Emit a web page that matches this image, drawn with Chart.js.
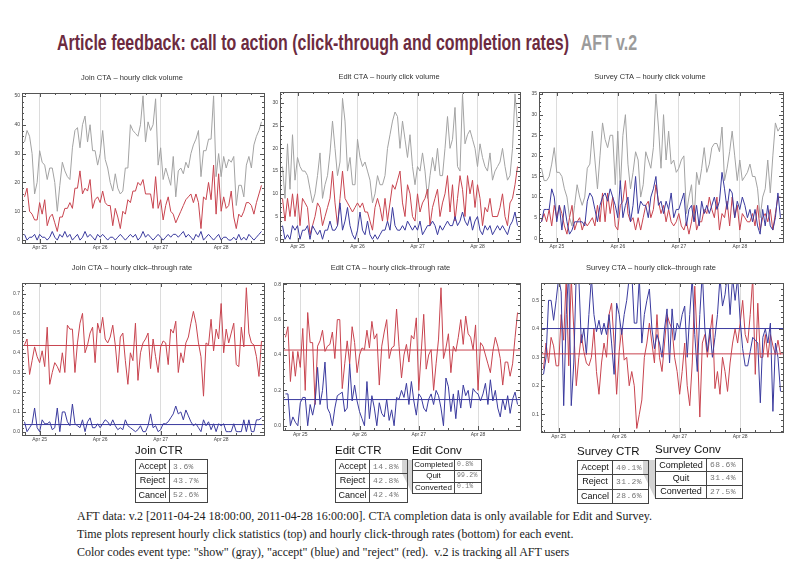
<!DOCTYPE html>
<html>
<head>
<meta charset="utf-8">
<script src="https://cdn.jsdelivr.net/npm/chart.js@4.4.1/dist/chart.umd.min.js"></script>
<style>
body { margin: 0; width: 800px; height: 566px; background: #fff; position: relative; overflow: hidden; font-family: "Liberation Sans", Arial, sans-serif; }
.plot { position: absolute; }
#title { position: absolute; left: 57px; top: 30px; white-space: nowrap; font-family: "Liberation Sans Narrow", "Liberation Sans", sans-serif; font-size: 22px; font-weight: bold; color: #6c2b3f; transform-origin: 0 0; }
#title span { color: #9b9b9b; margin-left: 16px; }
.tt { position: absolute; font-size: 11.5px; color: #111; white-space: nowrap; }
table.st { position: absolute; border-collapse: collapse; border: 1px solid #333; table-layout: fixed; }
table.st td { border: 1px solid #444; padding: 0; white-space: nowrap; line-height: 1; overflow: hidden; }
td.k { font-size: 9px; color: #111; text-align: center; }
td.v { font-family: "Liberation Mono", monospace; font-size: 8px; letter-spacing: 0.4px; color: #777; padding-left: 3px !important; }
table.small td.k { font-size: 8px; }
table.small td.v { font-size: 6.5px; letter-spacing: 0.2px; padding-left: 2px !important; }
.wedge { position: absolute; background: #d4d4d4; }
#foot { position: absolute; left: 77px; top: 507px; font-family: "Liberation Serif", "Times New Roman", serif; font-size: 12px; color: #222; line-height: 18px; white-space: nowrap; }
</style>
</head>
<body>
<div id="title">Article feedback: call to action (click-through and completion rates)<span>AFT v.2</span></div>
<div id="foot">
<div>AFT data: v.2 [2011-04-24 18:00:00, 2011-04-28 16:00:00]. CTA completion data is only available for Edit and Survey.</div>
<div>Time plots represent hourly click statistics (top) and hourly click-through rates (bottom) for each event.</div>
<div>Color codes event type: "show" (gray), "accept" (blue) and "reject" (red).&nbsp; v.2 is tracking all AFT users</div>
</div>
<script>
// hourly data, 2011-04-24 18:00 .. 2011-04-28 16:00 (95 hours)
const dayTicks = [6, 30, 54, 78];
const dayLabels = ['Apr 25', 'Apr 26', 'Apr 27', 'Apr 28'];

const joinShow = [34,38,36,30,16,20,31,27,26,21, 25,25,20,10,19,27,24,22,21,32, 38,39,32,40,43,34,40,31,31,26,
  30,38,28,25,20,17,23,18,16,17, 25,25,40,38,37,36,40,50,34,41, 38,40,49,26,32,21,25,22,19,29,
  15,24,25,23,27,25,30,33,35,38, 22,31,31,35,35,50,22,30,22,29, 25,28,27,29,12,19,19,15,26,29, 25,33,36,38,41];
const joinReject = [15,18,10,9,7,7,13,9,14,5, 8,9,6,3,8,8,11,11,13,11, 18,18,24,16,18,17,21,11,14,15,
  13,17,13,12,12,5,11,8,4,10, 9,14,13,17,17,20,19,21,16,16, 16,11,22,11,14,7,12,15,10,9,
  6,8,10,12,14,15,16,13,16,13, 4,15,14,20,14,26,9,23,10,15, 11,12,17,8,4,9,8,10,13,13, 12,9,13,16,19];
const joinAccept = [2,0,1,1,2,0,2,1,1,0, 1,3,1,0,2,1,3,1,2,0, 1,2,0,1,3,1,2,1,0,2,
  1,2,1,0,1,1,0,1,2,1, 0,1,2,1,2,0,1,3,1,2, 1,0,1,2,1,0,1,2,1,2,
  2,1,2,3,1,2,1,0,2,1, 3,0,1,2,1,0,1,2,0,1, 1,0,0,1,0,2,0,1,0,2, 1,0,1,2,3];

const editShow = [16,9,21,11,23,13,18,16,15,15, 14,11,8,10,14,19,9,12,14,19, 26,20,14,17,31,26,15,18,12,12,
  22,18,16,17,15,13,8,10,14,12, 12,14,20,23,26,28,27,20,26,22, 18,23,16,12,16,15,19,15,9,14,
  18,15,20,14,14,20,27,20,22,29, 16,15,32,21,23,24,22,20,16,21, 18,16,15,19,13,15,16,17,20,16, 13,14,20,32,25];
const editReject = [9,4,9,5,10,5,10,3,9,8, 7,1,3,5,8,7,3,5,7,9, 15,8,3,9,15,9,8,7,6,7,
  8,7,8,6,6,4,2,7,9,7, 4,9,4,8,12,11,13,15,8,5, 12,10,5,4,10,6,8,9,11,3,
  7,9,11,5,8,10,14,6,12,4, 9,14,11,5,14,10,13,7,12,9, 3,7,6,9,5,5,5,7,10,5, 3,8,9,12,16];
const editAccept = [3,0,1,0,3,2,3,0,2,2, 3,0,3,2,1,2,0,2,2,4, 2,2,3,8,2,4,7,3,1,0,
  2,6,2,1,4,1,0,1,0,1, 2,2,4,2,7,3,2,2,3,2, 4,3,2,3,2,4,1,2,3,3,
  4,3,1,3,2,3,4,3,3,5, 3,4,6,4,3,5,2,4,5,2, 1,3,2,3,1,2,3,2,3,2, 1,3,4,6,3];

const surveyShow = [17,14,14,15,18,22,16,16,15,12, 10,5,3,8,13,10,8,10,17,18, 26,19,12,20,28,24,22,25,25,13,
  26,12,25,30,18,12,16,21,19,10, 13,21,19,17,22,35,27,17,30,19, 26,18,19,16,17,19,20,6,10,13,
  4,16,13,17,22,16,18,22,23,23, 21,27,14,17,21,26,20,14,19,14, 15,16,18,15,15,12,5,10,12,19, 11,20,28,26,27];
const surveyReject = [4,6,4,7,3,8,5,8,6,3, 1,5,8,2,4,5,2,4,3,4, 5,3,8,4,11,4,11,6,10,3,
  2,8,9,14,6,4,5,2,5,2, 5,8,9,5,7,13,9,6,8,4, 7,4,3,4,6,3,2,4,1,4,
  8,2,4,4,7,6,10,7,5,10, 2,6,5,9,3,10,5,8,2,6, 5,4,4,6,3,8,2,5,6,4, 7,2,6,10,10];
const surveyAccept = [4,7,7,7,12,10,4,8,2,8, 4,1,2,4,4,4,4,3,9,11, 10,7,4,8,10,11,9,12,10,8,
  5,14,5,8,10,4,8,15,6,9, 8,8,5,10,12,15,8,9,6,9, 7,11,5,7,7,9,11,3,7,8,
  4,8,3,9,6,8,6,8,10,7, 9,16,12,7,12,11,5,9,7,10, 8,5,7,4,7,3,1,7,3,8, 3,2,5,11,5];

const joinCtrReject = [0.44,0.47,0.29,0.36,0.43,0.38,0.35,0.41,0.33,0.53, 0.24,0.30,0.35,0.33,0.30,0.40,0.30,0.54,0.52,0.52,
  0.30,0.45,0.55,0.60,0.40,0.44,0.50,0.53,0.35,0.55, 0.50,0.58,0.47,0.45,0.48,0.54,0.44,0.30,0.48,0.50,
  0.36,0.24,0.40,0.36,0.55,0.26,0.40,0.45,0.47,0.50, 0.32,0.47,0.38,0.30,0.43,0.46,0.45,0.34,0.52,0.50,
  0.56,0.30,0.40,0.35,0.45,0.48,0.55,0.61,0.55,0.45, 0.38,0.18,0.45,0.44,0.57,0.41,0.52,0.47,0.65,0.40,
  0.52,0.45,0.50,0.55,0.34,0.33,0.53,0.43,0.73,0.50, 0.45,0.44,0.38,0.28,0.46];
const joinCtrAccept = [0.05,0.00,0.02,0.04,0.12,0.02,0.00,0.06,0.04,0.04, 0.05,0.01,0.02,0.12,0.00,0.10,0.10,0.05,0.03,0.14,
  0.04,0.03,0.02,0.06,0.00,0.05,0.07,0.02,0.02,0.04, 0.02,0.04,0.06,0.05,0.03,0.06,0.03,0.01,0.02,0.01,
  0.06,0.03,0.02,0.01,0.00,0.01,0.03,0.00,0.00,0.03, 0.09,0.02,0.03,0.00,0.01,0.04,0.04,0.05,0.07,0.09,
  0.13,0.09,0.10,0.06,0.11,0.08,0.05,0.03,0.04,0.02, 0.00,0.06,0.03,0.05,0.01,0.04,0.00,0.04,0.03,0.04,
  0.00,0.00,0.00,0.04,0.00,0.00,0.00,0.06,0.00,0.06, 0.00,0.00,0.06,0.06,0.07];

const editCtrReject = [0.50,0.56,0.25,0.42,0.28,0.42,0.33,0.55,0.20,0.64, 0.47,0.47,0.12,0.45,0.48,0.54,0.42,0.45,0.46,0.53,
  0.38,0.60,0.60,0.21,0.35,0.48,0.35,0.56,0.47,0.30, 0.40,0.44,0.43,0.54,0.44,0.59,0.49,0.52,0.23,0.45,
  0.53,0.60,0.38,0.44,0.45,0.66,0.45,0.27,0.40,0.46, 0.36,0.51,0.49,0.61,0.20,0.42,0.63,0.32,0.40,0.43,
  0.20,0.35,0.49,0.78,0.38,0.44,0.52,0.30,0.45,0.42, 0.50,0.60,0.46,0.62,0.52,0.50,0.43,0.57,0.20,0.47,
  0.45,0.40,0.35,0.30,0.42,0.50,0.45,0.38,0.23,0.36, 0.36,0.28,0.35,0.50,0.64];
const editCtrAccept = [0.18,0.18,0.00,0.05,0.02,0.00,0.13,0.16,0.16,0.00, 0.12,0.06,0.13,0.33,0.12,0.20,0.36,0.10,0.07,0.00,
  0.10,0.17,0.18,0.19,0.08,0.10,0.35,0.14,0.23,0.14, 0.08,0.04,0.00,0.25,0.04,0.17,0.10,0.00,0.13,0.07,
  0.05,0.15,0.03,0.09,0.00,0.16,0.15,0.20,0.16,0.24, 0.12,0.25,0.14,0.06,0.18,0.16,0.10,0.08,0.15,0.18,
  0.12,0.20,0.17,0.10,0.00,0.27,0.22,0.08,0.18,0.04, 0.20,0.10,0.23,0.17,0.20,0.10,0.21,0.19,0.18,0.14,
  0.18,0.24,0.12,0.26,0.14,0.20,0.10,0.05,0.15,0.09, 0.17,0.07,0.15,0.19,0.12];

const surveyCtrAccept = [0.24,0.30,0.50,0.50,0.43,0.50,0.58,0.53,0.13,0.45, 0.60,0.13,0.28,0.60,0.58,0.35,0.40,0.31,0.45,0.58,
  0.45,0.39,0.43,0.38,0.42,0.38,0.45,0.35,0.24,0.49, 0.45,0.38,0.45,0.50,0.58,0.60,0.42,0.42,0.58,0.35,
  0.45,0.50,0.54,0.40,0.33,0.38,0.35,0.30,0.40,0.47, 0.28,0.47,0.36,0.42,0.40,0.45,0.48,0.30,0.45,0.58,
  0.38,0.25,0.45,0.60,0.40,0.32,0.40,0.30,0.37,0.45, 0.58,0.48,0.52,0.60,0.45,0.58,0.50,0.58,0.43,0.33,
  0.27,0.27,0.32,0.37,0.36,0.35,0.14,0.37,0.40,0.35, 0.42,0.11,0.35,0.30,0.18];
const surveyCtrReject = [0.26,0.35,0.28,0.37,0.34,0.27,0.27,0.45,0.36,0.58, 0.27,0.58,0.40,0.20,0.30,0.38,0.32,0.28,0.27,0.30,
  0.40,0.25,0.17,0.28,0.35,0.30,0.45,0.49,0.35,0.17, 0.32,0.40,0.29,0.30,0.20,0.25,0.20,0.05,0.10,0.15,
  0.30,0.35,0.42,0.35,0.28,0.45,0.30,0.25,0.35,0.45, 0.42,0.40,0.30,0.25,0.17,0.25,0.35,0.20,0.13,0.28,
  0.55,0.35,0.09,0.35,0.38,0.30,0.38,0.45,0.19,0.25, 0.17,0.30,0.25,0.18,0.28,0.35,0.40,0.35,0.42,0.50,
  0.38,0.35,0.45,0.58,0.24,0.49,0.30,0.30,0.38,0.30, 0.38,0.34,0.31,0.36,0.31];

// summary tables
const ctrRows = ['Accept', 'Reject', 'Cancel'];
const convRows = ['Completed', 'Quit', 'Converted'];
const joinCtr = ['3.6%', '43.7%', '52.6%'];
const editCtr = ['14.8%', '42.8%', '42.4%'];
const editConv = ['0.8%', '99.2%', '0.1%'];
const surveyCtr = ['40.1%', '31.2%', '28.6%'];
const surveyConv = ['68.6%', '31.4%', '27.5%'];

const GRAY = '#a3a3a3', RED = '#c8444f', BLUE = '#3a3a9e';
const X_MIN = -1, X_MAX = 95;

Chart.defaults.font.family = '"Liberation Sans", Arial, sans-serif';

const framePlugin = {
    id: 'frame',
    afterDraw(chart) {
        const { ctx, chartArea: a, scales: { x, y } } = chart;
        ctx.save();
        ctx.strokeStyle = '#555';
        ctx.lineWidth = 1;
        ctx.strokeRect(Math.round(a.left) + 0.5, Math.round(a.top) + 0.5, Math.round(a.right - a.left), Math.round(a.bottom - a.top));
        ctx.beginPath();
        const yt = y.ticks.map(t => t.value);
        const step = yt[1] - yt[0];
        for (let v = yt[0] - step; v <= y.max; v += step / 5) {
            if (v < y.min) continue;
            const py = Math.round(y.getPixelForValue(v)) + 0.5;
            const major = yt.some(t => Math.abs(t - v) < step / 100);
            const len = major ? 4 : 2;
            ctx.moveTo(a.left, py); ctx.lineTo(a.left + len, py);
            ctx.moveTo(a.right, py); ctx.lineTo(a.right - len, py);
        }
        for (let h = dayTicks[0] - 6; h <= x.max; h += 6) {
            if (h < x.min) continue;
            const px = Math.round(x.getPixelForValue(h)) + 0.5;
            const len = dayTicks.includes(h) ? 4 : 2;
            ctx.moveTo(px, a.bottom); ctx.lineTo(px, a.bottom - len);
            ctx.moveTo(px, a.top); ctx.lineTo(px, a.top + len);
        }
        ctx.stroke();
        ctx.restore();
    }
};

function pts(arr) {
    return arr.map((v, i) => ({ x: i, y: v }));
}

function line(data, color) {
    return { data: pts(data), borderColor: color, borderWidth: 1, pointRadius: 0, tension: 0, fill: false };
}

function meanLine(value, color) {
    return { data: [{ x: X_MIN, y: value }, { x: X_MAX, y: value }], borderColor: color, borderWidth: 1, pointRadius: 0, fill: false };
}

function makePlot(frame, title, datasets, yMin, yMax, yTicks, digits) {
    const [L, R, T, B] = frame;
    const w = R - L + 28, h = B - T + 42;
    const canvas = document.createElement('canvas');
    canvas.className = 'plot';
    canvas.width = w; canvas.height = h;
    canvas.style.left = (L - 22) + 'px';
    canvas.style.top = (T - 30) + 'px';
    canvas.style.width = w + 'px';
    canvas.style.height = h + 'px';
    document.body.appendChild(canvas);
    new Chart(canvas.getContext('2d'), {
        type: 'line',
        data: { datasets: datasets },
        options: {
            responsive: false,
            animation: false,
            layout: { padding: { left: 0, right: 6, top: 0, bottom: 0 } },
            plugins: {
                legend: { display: false },
                tooltip: { enabled: false },
                title: {
                    display: true,
                    text: title,
                    color: '#333',
                    font: { size: 7.5, weight: 'normal' },
                    padding: { top: 10, bottom: 11 }
                }
            },
            scales: {
                x: {
                    type: 'linear', min: X_MIN, max: X_MAX,
                    afterBuildTicks(s) { s.ticks = dayTicks.map(v => ({ value: v })); },
                    afterFit(s) { s.height = 12; },
                    ticks: {
                        font: { size: 5 }, color: '#444', padding: 2, maxRotation: 0, autoSkip: false,
                        callback: v => dayLabels[dayTicks.indexOf(v)]
                    },
                    grid: { color: '#dcdcdc', drawTicks: false, lineWidth: 1 },
                    border: { display: false }
                },
                y: {
                    min: yMin, max: yMax,
                    afterBuildTicks(s) { s.ticks = yTicks.map(v => ({ value: v })); },
                    afterFit(s) { s.width = 22; },
                    ticks: { font: { size: 5 }, color: '#444', padding: 2, callback: v => v.toFixed(digits) },
                    grid: { display: false, drawTicks: false },
                    border: { display: false }
                }
            }
        },
        plugins: [framePlugin]
    });
}

const pct = s => parseFloat(s) / 100;

makePlot([22, 264, 93, 243], 'Join CTA \u2013 hourly click volume',
    [line(joinAccept, BLUE), line(joinReject, RED), line(joinShow, GRAY)],
    -1, 51, [0, 10, 20, 30, 40, 50], 0);
makePlot([280, 520, 92, 242], 'Edit CTA \u2013 hourly click volume',
    [line(editAccept, BLUE), line(editReject, RED), line(editShow, GRAY)],
    -0.6, 32.4, [0, 5, 10, 15, 20, 25, 30], 0);
makePlot([539, 783, 92, 242], 'Survey CTA \u2013 hourly click volume',
    [line(surveyAccept, BLUE), line(surveyReject, RED), line(surveyShow, GRAY)],
    -0.9, 35.5, [0, 5, 10, 15, 20, 25, 30, 35], 0);
makePlot([22, 264, 283, 435], 'Join CTA \u2013 hourly click\u2013through rate',
    [meanLine(pct(joinCtr[0]), BLUE), meanLine(pct(joinCtr[1]), RED), line(joinCtrAccept, BLUE), line(joinCtrReject, RED)],
    -0.017, 0.754, [0, 0.1, 0.2, 0.3, 0.4, 0.5, 0.6, 0.7], 1);
makePlot([283, 520, 283, 430], 'Edit CTA \u2013 hourly click\u2013through rate',
    [meanLine(pct(editCtr[0]), BLUE), meanLine(pct(editCtr[1]), RED), line(editCtrAccept, BLUE), line(editCtrReject, RED)],
    -0.024, 0.807, [0, 0.2, 0.4, 0.6, 0.8], 1);
makePlot([541, 783, 283, 432], 'Survey CTA \u2013 hourly click\u2013through rate',
    [meanLine(pct(surveyCtr[0]), BLUE), meanLine(pct(surveyCtr[1]), RED), line(surveyCtrAccept, BLUE), line(surveyCtrReject, RED)],
    0.0375, 0.561, [0.1, 0.2, 0.3, 0.4, 0.5], 1);

function makeTable(name, left, top, colK, colV, rowH, labels, values, small) {
    const t = document.createElement('div');
    t.className = 'tt';
    t.textContent = name;
    t.style.left = left + 'px';
    t.style.top = (top - 15) + 'px';
    document.body.appendChild(t);
    const tb = document.createElement('table');
    tb.className = small ? 'st small' : 'st';
    tb.style.left = left + 'px';
    tb.style.top = top + 'px';
    tb.style.width = (colK + colV) + 'px';
    labels.forEach((lab, i) => {
        const tr = document.createElement('tr');
        const k = document.createElement('td');
        k.className = 'k'; k.textContent = lab; k.style.width = colK + 'px'; k.style.height = rowH + 'px';
        const v = document.createElement('td');
        v.className = 'v'; v.textContent = values[i]; v.style.width = colV + 'px'; v.style.height = rowH + 'px';
        tr.appendChild(k); tr.appendChild(v);
        tb.appendChild(tr);
    });
    document.body.appendChild(tb);
}

function wedge(left, top, width, height, pts) {
    const d = document.createElement('div');
    d.className = 'wedge';
    d.style.left = left + 'px'; d.style.top = top + 'px';
    d.style.width = width + 'px'; d.style.height = height + 'px';
    d.style.clipPath = 'polygon(' + pts + ')';
    document.body.appendChild(d);
}

wedge(402, 460, 10, 33, '0 0, 100% 0, 100% 100%, 0 40%');
wedge(643, 460, 12, 38, '0 0, 100% 0, 100% 100%, 0 35%');

makeTable('Join CTR', 135, 459, 33, 34, 13.3, ctrRows, joinCtr);
makeTable('Edit CTR', 335, 459, 33, 34, 13.3, ctrRows, editCtr);
makeTable('Edit Conv', 412, 459, 41, 24, 10.3, convRows, editConv, true);
makeTable('Survey CTR', 577, 460, 34, 32, 13.3, ctrRows, surveyCtr);
makeTable('Survey Conv', 655, 458, 50, 32, 12.3, convRows, surveyConv);

// squeeze the headline to its original width
const title = document.getElementById('title');
title.style.transform = 'scaleX(' + (580 / title.scrollWidth) + ')';
</script>
</body>
</html>
